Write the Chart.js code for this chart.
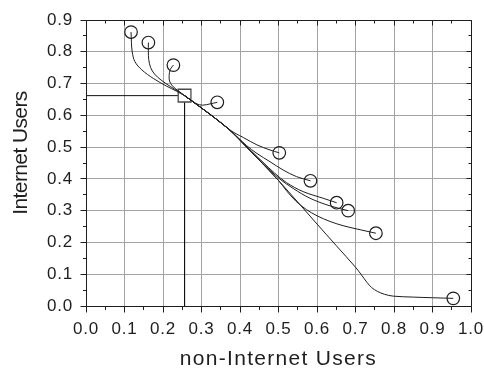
<!DOCTYPE html>
<html>
<head>
<meta charset="utf-8">
<title>Internet vs non-Internet Users</title>
<script src="https://cdn.jsdelivr.net/npm/chart.js@4/dist/chart.umd.min.js"></script>
<style>
  html, body { margin: 0; padding: 0; background: #fff; }
  canvas { display: block; }
</style>
</head>
<body>
<canvas id="phase" width="484" height="369"></canvas>
<script>
// Trajectories in the (non-Internet, Internet) plane, each listed from its
// starting point (circle) to the common equilibrium (square).
const path1 = [[0.117,0.862],[0.118,0.830],[0.120,0.800],[0.127,0.769],[0.145,0.743],[0.175,0.716],[0.209,0.692],[0.235,0.676],[0.256,0.662]];
const path2 = [[0.162,0.829],[0.162,0.800],[0.163,0.775],[0.168,0.750],[0.178,0.730],[0.195,0.711],[0.220,0.690],[0.240,0.675],[0.256,0.662]];
const path3 = [[0.227,0.758],[0.219,0.745],[0.216,0.726],[0.217,0.708],[0.224,0.693],[0.240,0.677],[0.256,0.662]];
const path4 = [[0.341,0.641],[0.322,0.636],[0.303,0.632],[0.288,0.636],[0.272,0.648],[0.256,0.662]];
const path5 = [[0.502,0.482],[0.478,0.491],[0.444,0.507],[0.409,0.530],[0.390,0.542],[0.374,0.554],[0.330,0.596],[0.300,0.623],[0.280,0.641],[0.256,0.662]];
const path6 = [[0.583,0.394],[0.547,0.407],[0.512,0.428],[0.478,0.454],[0.444,0.480],[0.417,0.505],[0.395,0.530],[0.374,0.553],[0.330,0.596],[0.300,0.623],[0.280,0.641],[0.256,0.662]];
const path7 = [[0.651,0.325],[0.616,0.339],[0.564,0.360],[0.521,0.388],[0.490,0.418],[0.460,0.452],[0.430,0.487],[0.410,0.510],[0.374,0.553],[0.330,0.596],[0.300,0.623],[0.280,0.641],[0.256,0.662]];
const path8 = [[0.681,0.300],[0.634,0.315],[0.582,0.339],[0.538,0.370],[0.504,0.399],[0.480,0.425],[0.450,0.460],[0.410,0.509],[0.374,0.553],[0.330,0.596],[0.300,0.623],[0.280,0.641],[0.256,0.662]];
const path9 = [[0.753,0.229],[0.712,0.240],[0.670,0.252],[0.634,0.266],[0.600,0.284],[0.573,0.303],[0.545,0.330],[0.520,0.364],[0.500,0.395],[0.450,0.459],[0.410,0.509],[0.374,0.553],[0.330,0.596],[0.300,0.623],[0.280,0.641],[0.256,0.662]];
const path10 = [[0.954,0.024],[0.900,0.026],[0.850,0.028],[0.798,0.031],[0.775,0.037],[0.757,0.046],[0.742,0.058],[0.730,0.074],[0.716,0.097],[0.700,0.122],[0.650,0.190],[0.600,0.258],[0.550,0.327],[0.500,0.395],[0.450,0.459],[0.410,0.509],[0.374,0.553],[0.330,0.596],[0.300,0.623],[0.280,0.641],[0.256,0.662]];

// Equilibrium point and its guide lines to both axes
const equilibriumX = [0.256];
const equilibriumY = [0.662];

const xTickLabels = ['0.0','0.1','0.2','0.3','0.4','0.5','0.6','0.7','0.8','0.9','1.0'];
const yTickLabels = ['0.0','0.1','0.2','0.3','0.4','0.5','0.6','0.7','0.8','0.9'];

const FONT = "'Liberation Sans', Arial, Helvetica, sans-serif";
const INK = '#1e1e1e';

const paths = [path1, path2, path3, path4, path5, path6, path7, path8, path9, path10];
const toXY = p => p.map(([x, y]) => ({ x, y }));

const eq = { x: equilibriumX[0], y: equilibriumY[0] };

const datasets = [];

// starting points
datasets.push({
  label: 'start',
  data: paths.map(p => ({ x: p[0][0], y: p[0][1] })),
  showLine: false,
  pointStyle: 'circle',
  pointRadius: 6.3,
  pointBorderWidth: 1.2,
  pointBorderColor: INK,
  pointBackgroundColor: 'rgba(0,0,0,0)'
});

// trajectories
paths.forEach((p, i) => {
  datasets.push({
    label: 'path' + (i + 1),
    data: toXY(p),
    showLine: true,
    borderColor: INK,
    borderWidth: 1,
    tension: 0.35,
    pointRadius: 0,
    fill: false
  });
});

// equilibrium marker
datasets.push({
  label: 'equilibrium',
  data: [eq],
  showLine: false,
  pointStyle: 'rect',
  pointRadius: 9,
  pointBorderWidth: 1.3,
  pointBorderColor: '#4a4a4a',
  pointBackgroundColor: '#ffffff'
});

// guide lines from the axes to the equilibrium
datasets.push({
  label: 'guideH',
  data: [{ x: 0, y: eq.y }, eq],
  showLine: true, tension: 0, borderColor: '#111', borderWidth: 1, pointRadius: 0
});
datasets.push({
  label: 'guideV',
  data: [eq, { x: eq.x, y: 0 }],
  showLine: true, tension: 0, borderColor: '#111', borderWidth: 1, pointRadius: 0
});

// Frame around the plot plus major/minor tick marks
// (outward on bottom/left, inward on top/right).
const align = p => Math.round(p - 0.5) + 0.5;
const axisFrame = {
  id: 'axisFrame',
  afterDraw(chart) {
    const { ctx, chartArea: a, scales: { x, y } } = chart;
    const L = align(a.left), R = align(a.right), T = align(a.top), B = align(a.bottom);
    ctx.save();
    ctx.strokeStyle = INK;
    ctx.lineWidth = 1;
    ctx.beginPath();
    ctx.rect(L, T, R - L, B - T);

    const marks = (scale) => {
      const vals = scale.ticks.map(t => t.value);
      const out = [];
      vals.forEach((v, i) => {
        out.push({ v, major: true });
        if (i < vals.length - 1) out.push({ v: (v + vals[i + 1]) / 2, major: false });
      });
      return out;
    };

    marks(x).forEach(({ v, major }) => {
      const px = align(x.getPixelForValue(v));
      ctx.moveTo(px, B); ctx.lineTo(px, B + (major ? 6 : 3.5));
      ctx.moveTo(px, T); ctx.lineTo(px, T + (major ? 5 : 3));
    });
    marks(y).forEach(({ v, major }) => {
      const py = align(y.getPixelForValue(v));
      ctx.moveTo(L, py); ctx.lineTo(L - (major ? 6 : 3.5), py);
      ctx.moveTo(R, py); ctx.lineTo(R - (major ? 5 : 3), py);
    });
    ctx.stroke();
    ctx.restore();
  }
};

// Letter spacing for tick labels and per-axis titles
const textSpacing = {
  id: 'textSpacing',
  beforeDraw(chart, args, opts) {
    chart.ctx.letterSpacing = opts.ticks;
    ['x', 'y'].forEach(id => {
      const scale = chart.scales[id];
      if (!scale || scale._spacedTitle) return;
      const conf = opts[id];
      const drawTitle = scale.drawTitle;
      scale.drawTitle = function () {
        const c = this.ctx;
        c.save();
        c.letterSpacing = conf.spacing;
        c.translate(0, conf.shift || 0);
        drawTitle.call(this);
        c.restore();
      };
      scale._spacedTitle = true;
    });
  },
  afterDraw(chart) {
    chart.ctx.letterSpacing = '0px';
  }
};

new Chart(document.getElementById('phase'), {
  type: 'scatter',
  data: { datasets },
  plugins: [textSpacing, axisFrame],
  options: {
    responsive: false,
    animation: false,
    devicePixelRatio: 1,
    layout: { padding: { left: 0, right: 13, top: 20, bottom: 0 } },
    plugins: {
      legend: { display: false },
      tooltip: { enabled: false },
      textSpacing: {
        ticks: '0.8px',
        x: { spacing: '1.3px', shift: 0 },
        y: { spacing: '-0.6px', shift: -10 }
      }
    },
    scales: {
      x: {
        type: 'linear',
        min: 0,
        max: 1,
        afterFit: s => { s.height = 63; s.paddingLeft = 0; s.paddingRight = 0; },
        border: { display: false },
        grid: { color: '#a3a3a3', lineWidth: 1, drawTicks: false },
        ticks: {
          stepSize: 0.1,
          padding: 13,
          color: INK,
          font: { family: FONT, size: 17, lineHeight: 1.2 },
          callback: (v, i) => xTickLabels[i] ?? Number(v).toFixed(1)
        },
        title: {
          display: true,
          text: 'non-Internet Users',
          color: INK,
          font: { family: FONT, size: 21, lineHeight: 0.95 },
          padding: { top: 0, bottom: 0 }
        }
      },
      y: {
        type: 'linear',
        min: 0,
        max: 0.9,
        afterFit: s => { s.width = 86; s.paddingTop = 0; s.paddingBottom = 0; },
        border: { display: false },
        grid: { color: '#a3a3a3', lineWidth: 1, drawTicks: false },
        ticks: {
          stepSize: 0.1,
          padding: 13,
          color: INK,
          font: { family: FONT, size: 17, lineHeight: 1.2 },
          callback: (v, i) => yTickLabels[i] ?? Number(v).toFixed(1)
        },
        title: {
          display: true,
          text: 'Internet Users',
          color: INK,
          font: { family: FONT, size: 21, lineHeight: 1 },
          padding: { top: 10.8, bottom: 0 }
        }
      }
    }
  }
});
</script>
</body>
</html>
